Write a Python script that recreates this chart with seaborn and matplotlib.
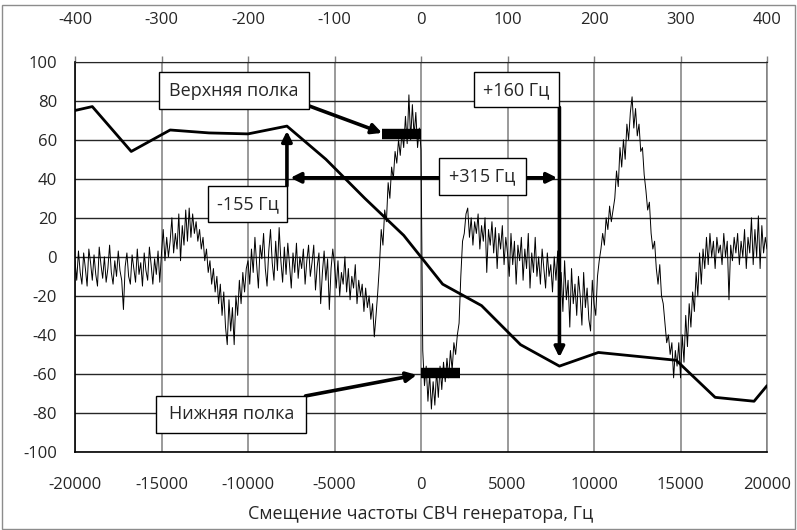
import numpy as np
import pandas as pd
import seaborn as sns
import matplotlib.pyplot as plt
from matplotlib.patches import Rectangle

# smooth (thick) curve vertices, Hz / value
curve_hz = [-20000, -19000, -16750, -14500, -12250, -10000, -7750, -5500, -3250,
            -1000, 1250, 3500, 5750, 8000, 10250, 12500, 14750, 17000, 19250, 20000]
curve_val = [75, 77, 54, 65, 63.5, 63, 67, 50, 30,
             11, -14, -25, -45, -56, -49, -51, -53, -72, -74, -66]

# noisy signal, 100 Hz step from -20000 Hz
sig_a = [-2, -12, 3, -8, -14, 2, -6, -15, 4, -3,
         -12, 1, -9, -15, 5, -4, -11, 0, -13, -6,
         6, -8, -14, -2, -10, 3, -7, -12, -27, -5,
         2, -10, -14, 1, -6, -13, 4, -9, -3, -15,
         2, -7, -12, 5, -4, -14, -1, -9, 3, -13]
sig_b = [2, 14, -2, 10, 0, 8, 20, 2, 12, 4,
         22, -2, 16, 6, 24, 8, 25, 10, 22, 12,
         18, 8, 14, 4, 10, -2, 4, -8, -2, -14,
         -6, -18, -10, -24, -14, -30, -18, -36, -45, -22,
         -38, -26, -45, -20, -30, -12, -24, -8, -18, -6]
sig_c = [-2, -14, 4, -8, 10, -4, -16, 6, -1, 12,
         -6, -15, 3, 14, -3, -12, 8, -7, 15, -2,
         -13, 5, -9, 7, -4, -16, 2, -8, 7, -11,
         0, -6, 4, -14, -2, 6, -10, -3, 6, -17,
         -5, 2, -24, -8, 3, -12, -1, -27, -6, 4]
sig_d = [-4, -16, -2, -20, -8, -14, 0, -18, -6, -22,
         -10, -16, -4, -24, -12, -20, -14, -28, -16, -26,
         -20, -32, -24, -41, -30, -18, -4, 14, 6, 24,
         18, 38, 30, 46, 40, 54, 48, 60, 52, 64,
         56, 72, 58, 83, 60, 78, 62, 74, 56, 66]
sig_e = [55, -48, -66, -56, -74, -60, -78, -64, -76, -58,
         -72, -56, -68, -54, -64, -52, -62, -48, -58, -44,
         -50, -40, -34, -10, 8, 12, 22, 25, 10, 20,
         6, 18, 12, 22, 4, 16, 8, 20, -8, 14,
         6, 18, 2, 15, -6, 12, 4, 16, -4, 10]
sig_f = [2, -10, 12, -4, 8, -14, 6, -2, 10, -12,
         4, -6, 12, -16, 2, -8, 10, -10, 0, -14,
         4, -6, -16, 2, -10, -4, -18, 0, -12, 3,
         -20, -8, -28, -2, -22, -12, -36, -6, -24, -14,
         -30, -10, -20, -35, -8, -26, -16, -32, -38, -12]
sig_g = [-24, -30, -10, -2, 4, 12, 6, 20, 14, 26,
         18, 24, 30, 44, 36, 56, 46, 60, 50, 68,
         60, 74, 82, 66, 76, 62, 68, 54, 56, 42,
         34, 24, 28, 12, 4, 8, -6, -14, -4, -20,
         -24, -34, -44, -40, -50, -44, -62, -48, -56, -44]
sig_h = [-62, -40, -54, -30, -46, -24, -36, -18, -28, -8,
         -20, 2, -14, 4, -6, 10, -4, 12, 0, 8,
         -6, 10, 2, 6, -4, 12, 0, 8, -22, 6,
         -2, 10, 2, 12, -4, 8, 0, 14, -6, 10,
         2, 20, -4, 14, 0, 21, -6, 16, 2, 10,
         4]

x_ticks = [-20000, -15000, -10000, -5000, 0, 5000, 10000, 15000, 20000]
top_ticks = [-400, -300, -200, -100, 0, 100, 200, 300, 400]
y_ticks = [-100, -80, -60, -40, -20, 0, 20, 40, 60, 80, 100]

sig = sig_a + sig_b + sig_c + sig_d + sig_e + sig_f + sig_g + sig_h
df = pd.DataFrame({'hz': np.arange(len(sig)) * 100 - 20000, 'val': sig})
curve = pd.DataFrame({'hz': curve_hz, 'val': curve_val})

sns.set_style('white')
plt.rcParams['font.family'] = ['Open Sans', 'DejaVu Sans']

fig = plt.figure(figsize=(7.97, 5.30), dpi=100)
ax = fig.add_axes([0.0941, 0.1472, 0.8683, 0.7364])

sns.lineplot(data=df, x='hz', y='val', color='black', lw=0.7, sort=False,
             estimator=None, ax=ax, zorder=3)
sns.lineplot(data=curve, x='hz', y='val', color='black', lw=2.0, sort=False,
             estimator=None, ax=ax, zorder=3)

ax.set_xlim(-20000, 20000)
ax.set_ylim(-100, 100)
ax.set_xticks(x_ticks)
ax.set_yticks(y_ticks)
ax.set_xticklabels([str(t) for t in x_ticks])
ax.set_yticklabels([str(t) for t in y_ticks])
ax.xaxis.grid(True, color='#7f7f7f', lw=1.1)
ax.yaxis.grid(True, color='#262626', lw=1.0)
ax.set_axisbelow(True)
ax.tick_params(axis='x', length=0, pad=18, labelsize=12)
ax.tick_params(axis='y', length=0, pad=13, labelsize=12)
ax.set_xlabel('Смещение частоты СВЧ генератора, Гц', fontsize=13, labelpad=9)
ax.set_ylabel('')
for s in ['left', 'bottom']:
    ax.spines[s].set_color('black')
    ax.spines[s].set_linewidth(1.2)
ax.spines['top'].set_color('#262626')
ax.spines['right'].set_color('#7f7f7f')
ax.spines['right'].set_linewidth(1.1)

sec = ax.secondary_xaxis('top', functions=(lambda v: v / 50, lambda v: v * 50))
sec.set_xticks(top_ticks)
sec.set_xticklabels([str(t) for t in top_ticks])
sec.tick_params(length=4.5, width=1.0, color='#7f7f7f', pad=20, labelsize=12)
sec.spines['top'].set_visible(False)

# shelves
ax.plot([-2250, 0], [63, 63], color='black', lw=7.5, solid_capstyle='butt', zorder=4)
ax.plot([0, 2250], [-59.5, -59.5], color='black', lw=7.5, solid_capstyle='butt', zorder=4)


def box(x0, x1, y0, y1, label):
    ax.add_patch(Rectangle((x0, y0), x1 - x0, y1 - y0, facecolor='white',
                           edgecolor='black', lw=1.0, zorder=6))
    ax.text((x0 + x1) / 2, (y0 + y1) / 2, label, ha='center', va='center',
            fontsize=13, zorder=7)


def arrow(start, tip):
    ax.annotate('', xy=tip, xytext=start, zorder=5,
                arrowprops=dict(arrowstyle='-|>', lw=2.6, color='black',
                                mutation_scale=15, shrinkA=0, shrinkB=0))


arrow((-6490, 77.4), (-2250, 63.5))
arrow((-6680, -71.3), (-250, -60.5))
arrow((-7750, 36.4), (-7750, 64.5))
arrow((1020, 40.5), (-7550, 40.5))
arrow((6090, 40.5), (7870, 40.5))
arrow((8000, 76.6), (8000, -51.5))

box(-15160, -6490, 75.7, 94.5, 'Верхняя полка')
box(-15290, -6620, -90.1, -71.3, 'Нижняя полка')
box(-12300, -7750, 17.6, 36.4, '-155 Гц')
box(1020, 6090, 31.8, 50.9, '+315 Гц')
box(3050, 8000, 76.6, 94.5, '+160 Гц')

fig.patches.append(Rectangle((0.003, 0.002), 0.994, 0.988, transform=fig.transFigure,
                             fill=False, edgecolor='#8c8c8c', lw=1.0))

fig.savefig('out.png', dpi=100)
